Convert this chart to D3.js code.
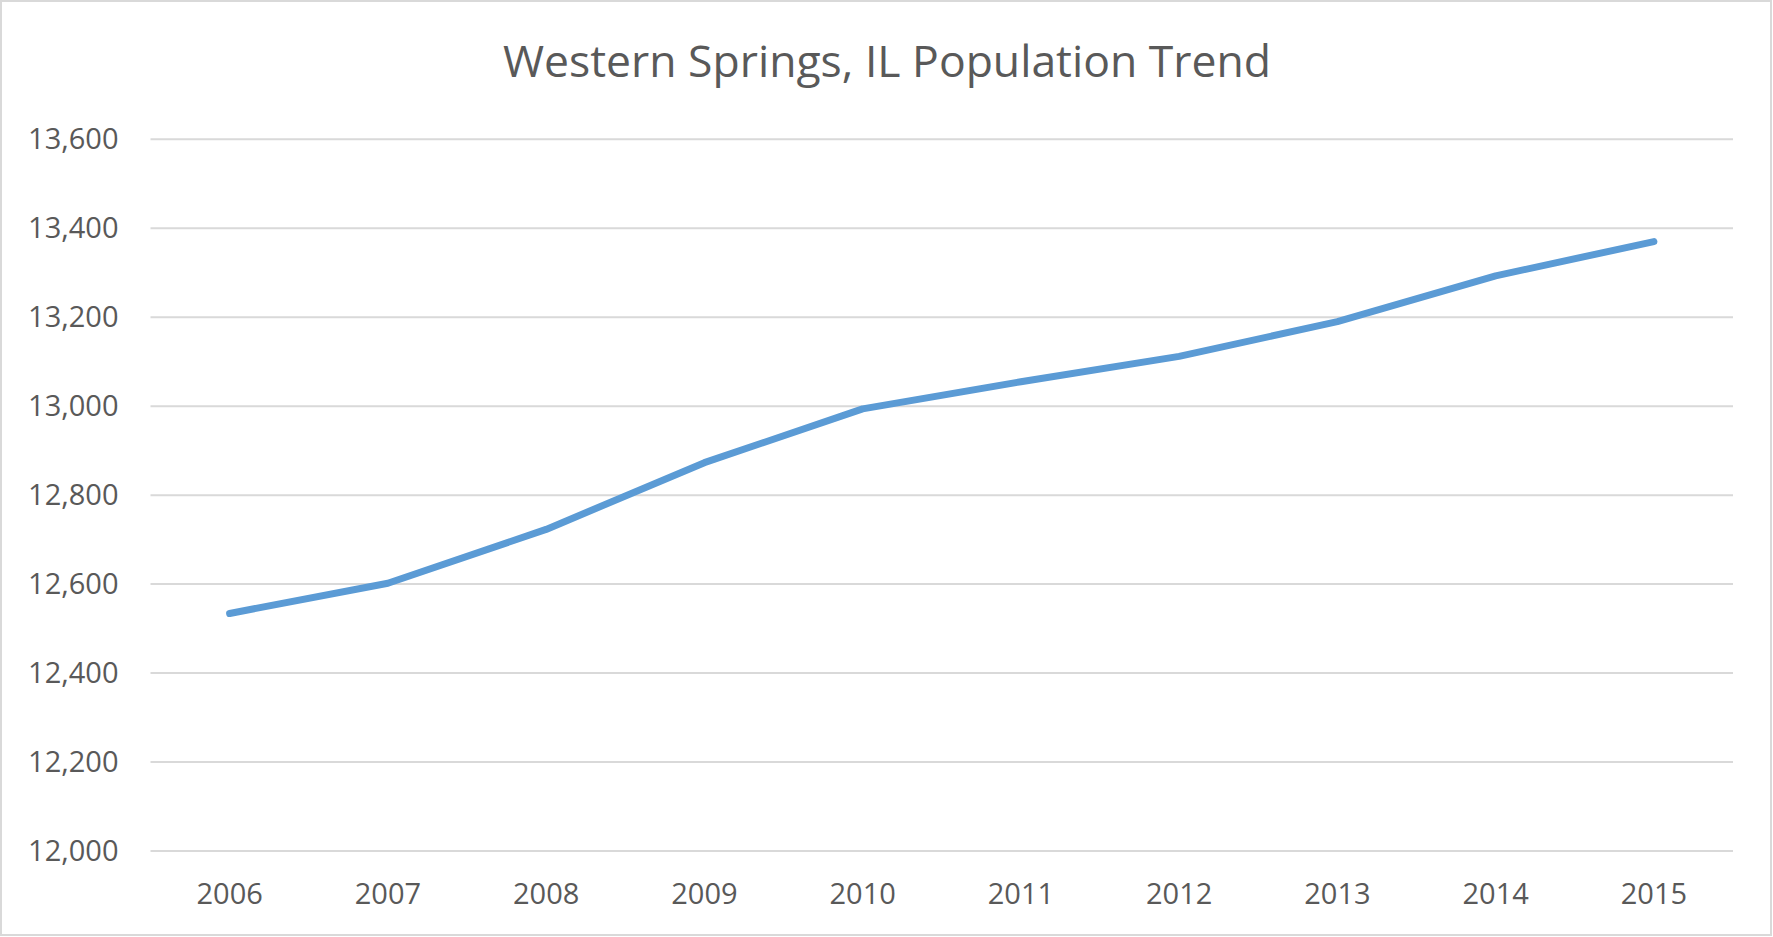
<!DOCTYPE html>
<html>
<head>
<meta charset="utf-8">
<script src="https://cdn.jsdelivr.net/npm/d3@7"></script>
<style>
    body { margin: 0; background: #fff; }
    text { font-family: "Open Sans", sans-serif; fill: #595959; }
</style>
</head>
<body>
<div id="chart"></div>
<script>
var years = ["2006", "2007", "2008", "2009", "2010", "2011", "2012", "2013", "2014", "2015"];
var population = [12534, 12602, 12723, 12873, 12994, 13055, 13112, 13190, 13293, 13370];
var yTicks = [12000, 12200, 12400, 12600, 12800, 13000, 13200, 13400, 13600];
var chartTitle = "Western Springs, IL Population Trend";

var width = 1773,
    height = 937,
    margin = {top: 139.3, right: 40, bottom: 86, left: 150.5};

var svg = d3.select("#chart").append("svg")
    .attr("width", width)
    .attr("height", height);

// outer frame
svg.append("rect")
    .attr("x", 1)
    .attr("y", 1)
    .attr("width", width - 3)
    .attr("height", height - 3)
    .attr("fill", "none")
    .attr("stroke", "#d9d9d9")
    .attr("stroke-width", 2);

var x = d3.scaleBand()
    .domain(years)
    .range([margin.left, width - margin.right])
    .padding(0);

var y = d3.scaleLinear()
    .domain([12000, 13600])
    .range([height - margin.bottom, margin.top]);

// horizontal gridlines
svg.append("g")
    .selectAll("line")
    .data(yTicks)
    .enter().append("line")
    .attr("x1", margin.left)
    .attr("x2", width - margin.right)
    .attr("y1", function (d) { return y(d); })
    .attr("y2", function (d) { return y(d); })
    .attr("stroke", "#d9d9d9")
    .attr("stroke-width", 2);

// y axis labels
var yAxis = d3.axisLeft(y)
    .tickValues(yTicks)
    .tickSize(0)
    .tickPadding(32)
    .tickFormat(d3.format(","));

svg.append("g")
    .attr("transform", "translate(" + margin.left + ",0)")
    .call(yAxis)
    .call(function (g) { g.select(".domain").remove(); })
    .selectAll("text")
    .attr("font-size", 29)
    .attr("font-family", "Open Sans")
    .attr("fill", "#595959");

// x axis labels
var xAxis = d3.axisBottom(x)
    .tickSize(0)
    .tickPadding(32);

svg.append("g")
    .attr("transform", "translate(0," + y(12000) + ")")
    .call(xAxis)
    .call(function (g) { g.select(".domain").remove(); })
    .selectAll("text")
    .attr("font-size", 29)
    .attr("font-family", "Open Sans")
    .attr("fill", "#595959");

var line = d3.line()
    .x(function (d, i) { return x(years[i]) + x.bandwidth() / 2; })
    .y(function (d) { return y(d); });

svg.append("path")
    .datum(population)
    .attr("d", line)
    .attr("fill", "none")
    .attr("stroke", "#5b9bd5")
    .attr("stroke-width", 7)
    .attr("stroke-linecap", "round")
    .attr("stroke-linejoin", "round");

svg.append("text")
    .attr("x", 887)
    .attr("y", 77)
    .attr("text-anchor", "middle")
    .attr("font-size", 44.5)
    .text(chartTitle);
</script>
</body>
</html>
